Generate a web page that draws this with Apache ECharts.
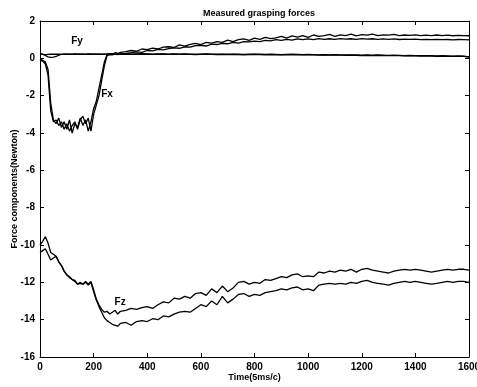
<!DOCTYPE html>
<html>
<head>
<meta charset="utf-8">
<script src="https://cdn.jsdelivr.net/npm/echarts@6/dist/echarts.min.js"></script>
<style>
  html, body { margin: 0; padding: 0; background: #fff; }
  #chart { width: 477px; height: 387px; }
</style>
</head>
<body>
<div id="chart"></div>
<script>
// sample times (5ms/c): every 10 up to 300, then every 20
const time = [
  0, 10, 20, 30, 40, 50, 60, 70, 80, 90, 100, 110, 120, 130, 140, 150, 160, 170, 180, 190,
  200, 210, 220, 230, 240, 250, 260, 270, 280, 290, 300,
  320, 340, 360, 380, 400, 420, 440, 460, 480, 500, 520, 540, 560, 580, 600, 620, 640, 660, 680,
  700, 720, 740, 760, 780, 800, 820, 840, 860, 880, 900, 920, 940, 960, 980, 1000, 1020, 1040, 1060, 1080,
  1100, 1120, 1140, 1160, 1180, 1200, 1220, 1240, 1260, 1280, 1300, 1320, 1340, 1360, 1380, 1400, 1420, 1440, 1460, 1480,
  1500, 1520, 1540, 1560, 1580, 1600
];

const fx1 = [
  -0.05, -0.1, -0.2, -0.6, -2.4, -3.3, -3.5, -3.2, -3.7, -3.4, -3.8, -3.3, -4.0, -3.5, -3.7, -3.2, -3.6, -3.3, -3.9, -3.4,
  -2.7, -2.3, -1.6, -0.9, -0.2, 0.2, 0.25, 0.22, 0.3, 0.26, 0.32,
  0.36, 0.42, 0.38, 0.5, 0.47, 0.55, 0.5, 0.6, 0.62, 0.58, 0.72, 0.66, 0.75, 0.8, 0.74, 0.86, 0.82, 0.9, 0.86,
  0.98, 0.9, 1.0, 1.04, 0.96, 1.08, 1.02, 1.12, 1.06, 1.1, 1.18, 1.08, 1.2, 1.14, 1.22, 1.12, 1.25, 1.18, 1.22, 1.28,
  1.18, 1.26, 1.22, 1.3, 1.2, 1.27, 1.24, 1.3, 1.22, 1.26, 1.24, 1.28, 1.22, 1.25, 1.23, 1.26, 1.22, 1.24, 1.22, 1.25,
  1.22, 1.24, 1.21, 1.23, 1.22, 1.21
];
const fx2 = [
  -0.1, -0.15, -0.3, -0.9, -2.8, -3.4, -3.3, -3.6, -3.4, -3.8, -3.5, -3.9, -3.6, -3.4, -3.8, -3.3, -3.1, -3.5, -3.2, -3.9,
  -3.0, -2.5, -2.0, -1.2, -0.4, 0.15, 0.2, 0.18, 0.22, 0.2, 0.24,
  0.26, 0.3, 0.35, 0.32, 0.42, 0.4, 0.48, 0.45, 0.52, 0.56, 0.54, 0.62, 0.6, 0.68, 0.7, 0.66, 0.76, 0.74, 0.8,
  0.78, 0.86, 0.82, 0.9, 0.88, 0.92, 0.9, 0.96, 0.94, 1.0, 0.96, 1.02, 0.98, 1.04, 1.0, 1.04, 1.0, 1.06, 1.02, 1.05,
  1.02, 1.06, 1.03, 1.05, 1.02, 1.06, 1.03, 1.05, 1.02, 1.04, 1.02, 1.04, 1.01, 1.03, 1.02, 1.03, 1.0, 1.02, 1.0, 1.02,
  1.0, 1.01, 0.99, 1.01, 1.0, 0.99
];
const fy1 = [
  0.22, 0.21, 0.2, 0.21, 0.22, 0.23, 0.22, 0.22, 0.21, 0.22, 0.23, 0.22, 0.21, 0.22, 0.22, 0.23, 0.22, 0.21, 0.22, 0.22,
  0.23, 0.22, 0.22, 0.21, 0.22, 0.22, 0.23, 0.22, 0.21, 0.22, 0.22,
  0.22, 0.21, 0.22, 0.23, 0.22, 0.21, 0.22, 0.22, 0.21, 0.22, 0.21, 0.22, 0.21, 0.2, 0.21, 0.22, 0.21, 0.2, 0.21,
  0.2, 0.21, 0.2, 0.19, 0.2, 0.21, 0.2, 0.19, 0.2, 0.19, 0.18, 0.19, 0.2, 0.19, 0.18, 0.19, 0.18, 0.17, 0.18, 0.17,
  0.18, 0.17, 0.16, 0.17, 0.16, 0.15, 0.16, 0.15, 0.16, 0.15, 0.14, 0.15, 0.14, 0.13, 0.14, 0.13, 0.12, 0.13, 0.12, 0.11,
  0.12, 0.11, 0.1, 0.11, 0.1, 0.06
];
const fy2 = [
  0.25, 0.22, 0.15, 0.08, 0.05, 0.06, 0.1, 0.17, 0.21, 0.22, 0.23, 0.22, 0.23, 0.24, 0.22, 0.23, 0.22, 0.23, 0.24, 0.23,
  0.22, 0.23, 0.22, 0.23, 0.22, 0.23, 0.24, 0.23, 0.22, 0.23, 0.23,
  0.24, 0.23, 0.24, 0.25, 0.24, 0.23, 0.24, 0.24, 0.23, 0.24, 0.23, 0.24, 0.23, 0.22, 0.23, 0.24, 0.23, 0.22, 0.23,
  0.22, 0.23, 0.22, 0.21, 0.22, 0.23, 0.22, 0.21, 0.22, 0.21, 0.2, 0.21, 0.22, 0.21, 0.2, 0.21, 0.2, 0.19, 0.2, 0.19,
  0.2, 0.19, 0.18, 0.19, 0.18, 0.17, 0.18, 0.17, 0.18, 0.17, 0.16, 0.17, 0.16, 0.15, 0.16, 0.15, 0.14, 0.15, 0.14, 0.13,
  0.14, 0.13, 0.12, 0.13, 0.12, 0.08
];
const fz1 = [
  -10.0, -9.8, -9.55, -9.9, -10.4, -10.5, -10.6, -10.9, -11.1, -11.4, -11.6, -11.7, -11.85, -11.9, -12.1, -12.0, -12.1, -11.95, -12.1, -11.95,
  -12.4, -12.9, -13.2, -13.45, -13.6, -13.55, -13.7, -13.6, -13.5, -13.7, -13.55,
  -13.5, -13.4, -13.45, -13.35, -13.3, -13.4, -13.2, -13.05, -13.1, -12.85, -12.9, -12.75, -12.85, -12.6, -12.55, -12.7, -12.35, -12.55, -12.2,
  -12.5, -12.3, -12.0, -11.95, -12.1, -12.0, -12.05, -11.85, -11.9, -11.8, -11.7, -11.75, -11.6, -11.55, -11.7, -11.65, -11.7, -11.45, -11.5, -11.4,
  -11.45, -11.35, -11.4, -11.3, -11.45, -11.3, -11.25, -11.35, -11.4, -11.45, -11.5, -11.4, -11.35, -11.3, -11.35, -11.3, -11.35, -11.4, -11.45, -11.4,
  -11.35, -11.3, -11.35, -11.3, -11.3, -11.35
];
const fz2 = [
  -10.4, -10.3, -10.2, -10.5, -10.8, -10.7, -10.6, -10.9, -11.1, -11.4, -11.6, -11.75, -11.85, -11.95, -12.1, -12.05, -12.1, -12.0, -12.15, -12.0,
  -12.5, -12.95, -13.3, -13.6, -13.9, -14.05, -14.15, -14.25, -14.3, -14.35, -14.2,
  -14.15, -14.3, -14.1, -14.05, -14.1, -13.95, -14.0, -13.8, -13.85, -13.7, -13.6, -13.55, -13.6, -13.4, -13.2, -13.3, -13.0, -13.2, -12.75,
  -13.1, -12.9, -12.65, -12.6, -12.75, -12.65, -12.7, -12.55, -12.5, -12.45, -12.35, -12.4, -12.3, -12.25, -12.4, -12.35, -12.45, -12.15, -12.1, -12.05,
  -12.1, -12.05, -12.1, -12.0, -12.05, -11.95, -11.9, -12.0, -12.05, -12.1, -12.15, -12.05, -12.0, -11.95, -12.0, -11.95, -12.0, -12.05, -12.1, -12.05,
  -12.0, -11.95, -12.0, -11.95, -11.95, -12.0
];

// curve labels placed in data coordinates
const labels = [
  { name: 'Fy', coord: [138, 0.91] },
  { name: 'Fx', coord: [250, -1.93] },
  { name: 'Fz', coord: [299, -13.08] }
];

const font = 'Liberation Sans, Arial, sans-serif';

const pairs = (vals) => vals.map((v, i) => [time[i], v]);

const chart = echarts.init(document.getElementById('chart'));

const lineSeries = (vals) => ({
  type: 'line',
  data: pairs(vals),
  showSymbol: false,
  symbol: 'none',
  silent: true,
  animation: false,
  lineStyle: { color: '#000', width: 1.3 }
});

const series = [fx1, fx2, fy1, fy2, fz1, fz2].map(lineSeries);
series[0].markPoint = {
  symbol: 'circle',
  symbolSize: 0,
  label: {
    show: true,
    formatter: (p) => p.name,
    color: '#000',
    fontFamily: font,
    fontWeight: 'bold',
    fontSize: 10
  },
  data: labels
};

const axisText = { color: '#000', fontFamily: font, fontWeight: 'bold', fontSize: 10 };

chart.setOption({
  animation: false,
  backgroundColor: '#fff',
  title: {
    text: 'Measured grasping forces',
    left: 254,
    textAlign: 'center',
    top: 4,
    textStyle: { color: '#000', fontFamily: font, fontWeight: 'bold', fontSize: 9 }
  },
  grid: { left: 40, right: 8, top: 21, bottom: 30, containLabel: false, outerBoundsMode: 'none' },
  xAxis: [
    {
      type: 'value',
      min: 0,
      max: 1600,
      interval: 200,
      name: 'Time(5ms/c)',
      nameLocation: 'middle',
      nameGap: 16,
      nameMoveOverlap: false,
      nameTextStyle: { color: '#000', fontFamily: font, fontWeight: 'bold', fontSize: 9 },
      axisLine: { onZero: false, lineStyle: { color: '#000', width: 1 } },
      axisTick: { inside: true, length: 4, lineStyle: { color: '#000' } },
      axisLabel: Object.assign({ margin: 5, formatter: (v) => String(v) }, axisText),
      splitLine: { show: false }
    },
    {
      type: 'value',
      position: 'top',
      min: 0,
      max: 1600,
      interval: 200,
      axisLine: { onZero: false, lineStyle: { color: '#000', width: 1 } },
      axisTick: { inside: true, length: 4, lineStyle: { color: '#000' } },
      axisLabel: { show: false },
      splitLine: { show: false }
    }
  ],
  yAxis: [
    {
      type: 'value',
      min: -16,
      max: 2,
      interval: 2,
      name: 'Force components(Newton)',
      nameLocation: 'middle',
      nameGap: 21,
      nameMoveOverlap: false,
      nameTextStyle: { color: '#000', fontFamily: font, fontWeight: 'bold', fontSize: 9 },
      axisLine: { onZero: false, lineStyle: { color: '#000', width: 1 } },
      axisTick: { inside: true, length: 4, lineStyle: { color: '#000' } },
      axisLabel: Object.assign({ margin: 5 }, axisText),
      splitLine: { show: false }
    },
    {
      type: 'value',
      position: 'right',
      min: -16,
      max: 2,
      interval: 2,
      axisLine: { onZero: false, lineStyle: { color: '#000', width: 1 } },
      axisTick: { inside: true, length: 4, lineStyle: { color: '#000' } },
      axisLabel: { show: false },
      splitLine: { show: false }
    }
  ],
  series: series
});
</script>
</body>
</html>
